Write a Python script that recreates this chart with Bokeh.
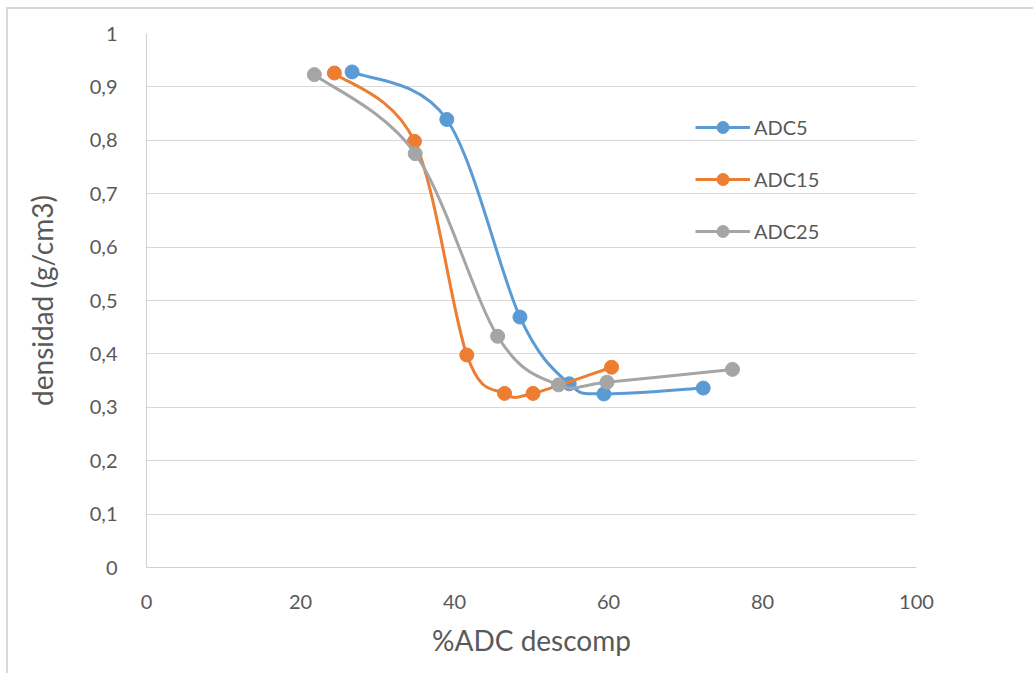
import numpy as np
from bokeh.plotting import figure
from bokeh.models import (ColumnDataSource, FixedTicker, CustomJSTickFormatter, Legend,
                          LegendItem, Range1d)
from bokeh.embed import file_html
from bokeh.resources import INLINE

# ---- data ----
series_names = ["ADC5", "ADC15", "ADC25"]
adc5_x = [26.7, 39.0, 48.5, 54.9, 59.4, 72.3]
adc5_y = [0.928, 0.839, 0.469, 0.344, 0.325, 0.336]
adc15_x = [24.4, 34.8, 41.6, 46.5, 50.2, 60.4]
adc15_y = [0.926, 0.798, 0.398, 0.326, 0.326, 0.375]
adc25_x = [21.8, 34.9, 45.6, 53.5, 59.8, 76.1]
adc25_y = [0.923, 0.775, 0.433, 0.342, 0.347, 0.371]
x_ticks = [0, 20, 40, 60, 80, 100]
y_ticks = [0, 0.1, 0.2, 0.3, 0.4, 0.5, 0.6, 0.7, 0.8, 0.9, 1.0]

colors = ["#5B9BD5", "#ED7D31", "#A5A5A5"]
FONT = "Lato"
TXT = "#595959"


def smooth_segments(xs, ys, t=1.0 / 6.0):
    """Bezier control points for an Excel-like smoothed line through the points."""
    P = np.column_stack([xs, ys]).astype(float)
    n = len(P)
    d = dict(x0=[], y0=[], x1=[], y1=[], cx0=[], cy0=[], cx1=[], cy1=[])
    for i in range(n - 1):
        p0 = P[i - 1] if i > 0 else P[i]
        p1 = P[i]
        p2 = P[i + 1]
        p3 = P[i + 2] if i + 2 < n else P[i + 1]
        c0 = p1 + (p2 - p0) * t
        c1 = p2 - (p3 - p1) * t
        d["x0"].append(p1[0]); d["y0"].append(p1[1])
        d["x1"].append(p2[0]); d["y1"].append(p2[1])
        d["cx0"].append(c0[0]); d["cy0"].append(c0[1])
        d["cx1"].append(c1[0]); d["cy1"].append(c1[1])
    return ColumnDataSource(d)


p = figure(frame_width=770, frame_height=534,
           min_border_left=138, min_border_top=24, min_border_right=117, min_border_bottom=106,
           x_range=Range1d(0, 100), y_range=Range1d(0, 1),
           output_backend="svg", toolbar_location=None)
p.outline_line_color = None
p.background_fill_color = "white"
p.border_fill_color = "white"
# outer chart border (left/top edges visible in the reference)
p.styles = {"margin-left": "6px", "margin-top": "7px",
            "border-left": "2px solid #d9d9d9", "border-top": "2px solid #d9d9d9"}

p.xgrid.visible = False
p.ygrid.grid_line_color = "#d9d9d9"
p.ygrid.grid_line_width = 1

p.xaxis.ticker = FixedTicker(ticks=x_ticks)
p.yaxis.ticker = FixedTicker(ticks=y_ticks)
p.yaxis.formatter = CustomJSTickFormatter(
    code="return (Math.round(tick*10)/10).toString().replace('.', ',');")

for ax in (p.xaxis, p.yaxis):
    ax.major_tick_line_color = None
    ax.minor_tick_line_color = None
    ax.axis_line_color = "#d0d0d0"
    ax.axis_line_width = 1
    ax.major_label_text_font = FONT
    ax.major_label_text_font_size = "20px"
    ax.major_label_text_color = TXT
    ax.axis_label_text_font = FONT
    ax.axis_label_text_font_size = "28px"
    ax.axis_label_text_font_style = "normal"
    ax.axis_label_text_color = TXT

p.xaxis.axis_label = "%ADC descomp"
p.yaxis.axis_label = "densidad (g/cm3)"
p.xaxis.major_label_standoff = 21
p.yaxis.major_label_standoff = 23
p.xaxis.axis_label_standoff = 11
p.yaxis.axis_label_standoff = 28

items = []
for name, xs, ys, c in zip(series_names, [adc5_x, adc15_x, adc25_x],
                           [adc5_y, adc15_y, adc25_y], colors):
    src = smooth_segments(xs, ys)
    b = p.bezier(x0="x0", y0="y0", x1="x1", y1="y1", cx0="cx0", cy0="cy0",
                 cx1="cx1", cy1="cy1", source=src, line_color=c, line_width=3)
    s = p.scatter(x=xs, y=ys, size=14, marker="circle", fill_color=c, line_color=c)
    items.append(LegendItem(label=name, renderers=[b, s]))

legend = Legend(items=items, location=(549, 321), padding=0, margin=0, spacing=22,
                glyph_width=55, glyph_height=30, label_height=30, label_standoff=4,
                label_text_font=FONT, label_text_font_size="20px", label_text_color=TXT,
                border_line_color=None, background_fill_alpha=0)
p.add_layout(legend)

open("out.html", "w").write(file_html(p, INLINE))
